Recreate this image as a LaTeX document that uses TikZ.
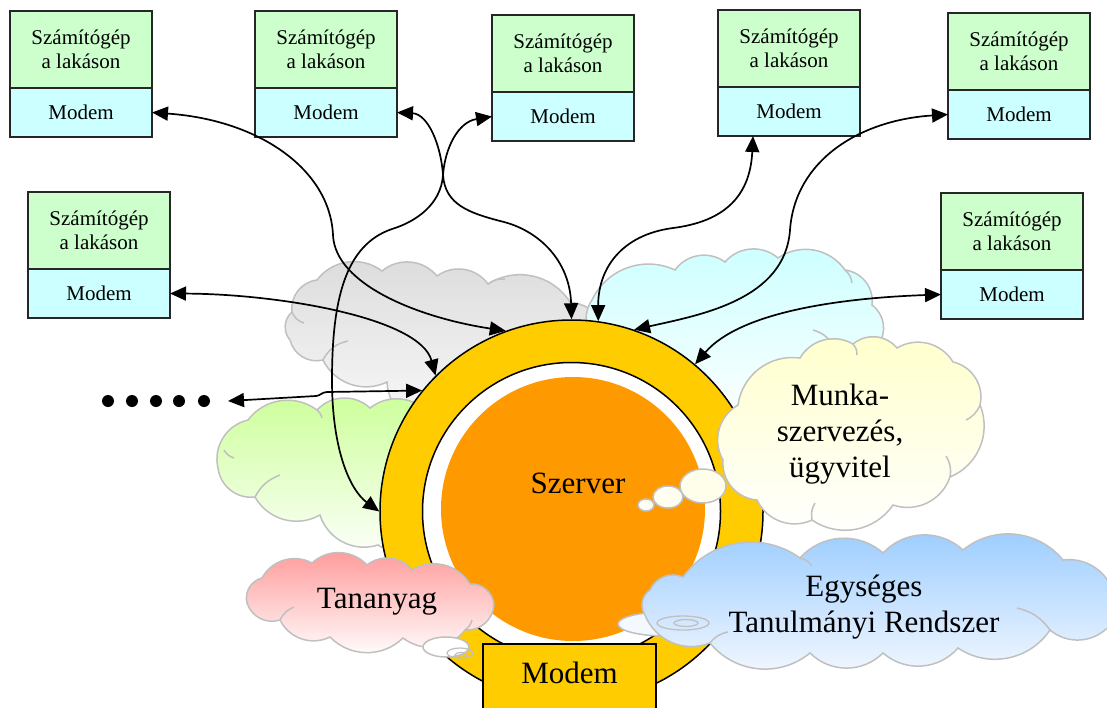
\documentclass[tikz,border=0pt]{standalone}
\usepackage{fontspec}
\setmainfont{Liberation Serif}
\usetikzlibrary{arrows.meta,calc}

\definecolor{boxgreen}{HTML}{CCFFCC}
\definecolor{boxcyan}{HTML}{CCFFFF}
\definecolor{ringyellow}{HTML}{FFCC00}
\definecolor{coreorange}{HTML}{FF9900}
\definecolor{cloudline}{HTML}{C0C0C0}
\definecolor{cgray}{HTML}{DCDCDC}
\definecolor{ccyan}{HTML}{CCFFFF}
\definecolor{cgreen}{HTML}{CCFF99}
\definecolor{cyellow}{HTML}{FFFFCC}
\definecolor{cblue}{HTML}{99CCFF}
\definecolor{cbluelow}{HTML}{F4F8FF}
\definecolor{cpink}{HTML}{FF9999}

% one home computer: the PC box with its modem underneath
\newcommand\homepc[3]{%
  \node[pcbox, anchor=north west] (c#1) at (#2,#3) {Számítógép\\a lakáson};
  \node[modembox, anchor=north] (m#1) at (c#1.south) {Modem};}

\begin{document}
\begin{tikzpicture}[x=1pt, y=-1pt,
  pcbox/.style={draw=black!85, line width=1.5pt, fill=boxgreen,
    minimum width=142pt, minimum height=77pt, inner sep=0pt, outer sep=0pt,
    align=center, font=\fontsize{21}{24}\selectfont},
  modembox/.style={draw=black!85, line width=1.5pt, fill=boxcyan,
    minimum width=142pt, minimum height=49pt, inner sep=0pt, outer sep=0pt,
    font=\fontsize{21}{24}\selectfont},
  conn/.style={{Triangle[length=16pt,width=14pt]}-{Triangle[length=16pt,width=14pt]},
    line width=1.7pt},
  cloudedge/.style={draw=cloudline, line width=1.5pt},
  lb/.style={bend left=45},
  stub/.style={draw=cloudline, line width=1.5pt},
  bubble/.style={draw=cloudline, line width=1.5pt},
  big/.style={font=\fontsize{31}{36}\selectfont},
  dot/.style={circle, fill=black, minimum size=12pt, inner sep=0pt}]

\useasboundingbox (0,0) rectangle (1107,707);

% ---- background clouds
\shadedraw[cloudedge, top color=cgray, bottom color=white]
  (317,280) to[lb] (382,271) to[lb] (437,276) to[lb] (488,284) to[lb] (570,302)
  to[lb] (615,360) to[lb] (600,425) to[lb] (520,445) to[lb] (440,430)
  to[lb] (387,382) to[lb] (323,360) to[lb] (290,340) to[lb] (292,312)
  to[lb] (317,280) -- cycle;
\draw[stub] (292,312) to[bend right=25] (304,323);
\draw[stub] (323,360) to[bend left=25] (348,341);
\draw[stub] (488,284) to[bend left=20] (505,279);
\shadedraw[cloudedge, top color=ccyan, bottom color=white]
  (592,300) to[lb] (675,270) to[lb] (725,262) to[lb] (778,258) to[lb] (845,270)
  to[lb] (872,305) to[lb] (878,345) to[lb] (860,390) to[lb] (780,410)
  to[lb] (700,400) to[lb] (640,380) to[lb] (600,345) to[lb] (592,300) -- cycle;
\draw[stub] (813,330) to[bend left=20] (833,345);
\draw[stub] (845,270) to[bend left=20] (852,283);
\shadedraw[cloudedge, top color=cgreen, bottom color=white]
  (248,420) to[lb] (317,410) to[lb] (370,408) to[lb] (430,415) to[lb] (480,450)
  to[lb] (475,520) to[lb] (378,545) to[lb] (320,515) to[lb] (255,497)
  to[lb] (218,468) to[lb] (248,420) -- cycle;
\draw[stub] (255,497) to[bend left=20] (280,475);
\draw[stub] (224,450) to[bend right=20] (234,458);
\draw[stub] (317,410) to[bend left=20] (322,418);

% ---- server rings
\node[circle, draw, line width=1.5pt, fill=ringyellow, minimum size=383pt,
  inner sep=0pt] (srv) at (571.5,511.5) {};
\node[circle, draw, line width=1.5pt, fill=white, minimum size=298pt,
  inner sep=0pt] (gap) at (571.5,511.5) {};
\node[circle, fill=coreorange, minimum size=264pt, inner sep=0pt]
  (core) at (573,509) {};
\node[big, anchor=base] (szerver) at (578,493) {Szerver};

% ---- home computers
\homepc{1}{10}{11}
\homepc{2}{255}{11}
\homepc{3}{492}{15}
\homepc{4}{718}{10}
\homepc{5}{948}{13}
\homepc{6}{941}{193}
\homepc{7}{28}{192}

% ---- further computers
\node[dot] (d1) at (108,401) {};
\node[dot] (d2) at (132,401) {};
\node[dot] (d3) at (156,401) {};
\node[dot] (d4) at (179,401) {};
\node[dot] (d5) at (204,401) {};
\coordinate (dt) at (228,401);

% ---- connections
\draw[conn] (m1.east) .. controls (260,120) and (330,170) .. (333,235)
  .. controls (335,285) and (420,318) .. (srv.110.7);
\draw[conn] (m2.east) .. controls (428,114) and (441,145) .. (443,175)
  .. controls (445,205) and (470,213) .. (500,221)
  .. controls (540,230) and (570,262) .. (srv.90);
\draw[conn] (m3.west) .. controls (458,122) and (445,148) .. (443,175)
  .. controls (441,205) and (415,222) .. (392,229)
  .. controls (345,245) and (332,300) .. (332,380)
  .. controls (332,450) and (350,490) .. (srv.180);
\draw[conn] ($(m4.south)+(-36,0)$) .. controls (750,200) and (720,222) .. (673,228)
  .. controls (620,235) and (598,270) .. (srv.82.5);
\draw[conn] (m5.west) .. controls (860,120) and (795,160) .. (790,230)
  .. controls (785,300) and (700,315) .. (srv.71.6);
\draw[conn] (m6.west) .. controls (840,298) and (740,312) .. (srv.50.3);
\draw[conn] (m7.east) .. controls (280,294) and (420,318) .. (srv.135.4);
\draw[conn] (dt) -- (316,396) .. controls (320,396) and (322,392) .. (327,392)
  -- (srv.141);

% ---- front clouds
% work organisation
\shadedraw[cloudedge, top color=cyellow, bottom color=white]
  (738,405) to[lb] (800,358) to[lb] (853,344) to[lb] (897,348) to[lb] (953,362)
  to[lb] (980,405) to[lb] (950,477) to[lb] (893,505) to[lb] (812,520)
  to[lb] (757,500) to[lb] (723,460) to[lb] (738,405) -- cycle;
\draw[stub] (980,405) to[bend left=20] (966,420);
\draw[stub] (950,477) to[bend right=20] (946,456);
\draw[stub] (812,520) to[bend left=20] (815,503);
\draw[stub] (853,344) to[bend left=20] (857,355);
\filldraw[bubble, fill=white!92!yellow] (703,486) ellipse [x radius=23, y radius=17];
\filldraw[bubble, fill=white!94!yellow] (668,497) ellipse [x radius=15, y radius=11];
\filldraw[bubble, fill=white!96!yellow] (646,505) ellipse [x radius=8, y radius=6];
\node[big, align=center, anchor=north, inner sep=0pt] (munka) at (840,384)
  {Munka-\\szervezés,\\ügyvitel};

% study system
\filldraw[bubble, fill=cbluelow] (665,624) ellipse [x radius=47, y radius=12];
\shadedraw[cloudedge, top color=cblue, bottom color=cbluelow]
  (683,577) to[lb] (800,558) to[lb] (883,553) to[lb] (963,550) to[lb] (1063,560)
  to[lb] (1115,600) to[lb] (1110,625) to[lb] (1050,630) to[lb] (958,648)
  to[lb] (883,653) to[lb] (810,653) to[lb] (710,643) to[lb] (645,615)
  to[lb] (650,590) to[lb] (683,577) -- cycle;
\draw[stub] (1050,630) to[bend right=20] (1017,608);
\draw[stub] (710,643) to[bend left=20] (728,632);
\draw[stub] (800,558) to[bend left=20] (812,566);
\draw[bubble, line width=1.3pt] (683,623) ellipse [x radius=26, y radius=7];
\draw[bubble, line width=1.3pt] (686,623) ellipse [x radius=12, y radius=3.5];
\node[big, align=center, anchor=north, inner sep=0pt] (etr) at (864,575)
  {Egységes\\Tanulmányi Rendszer};

% learning material
\shadedraw[cloudedge, top color=cpink, bottom color=white]
  (262,578) to[lb] (312,563) to[lb] (367,565) to[lb] (412,570) to[lb] (470,584)
  to[lb] (494,605) to[lb] (465,630) to[lb] (403,638) to[lb] (330,637)
  to[lb] (280,620) to[lb] (247,603) to[lb] (262,578) -- cycle;
\draw[stub] (280,620) to[bend left=20] (294,607);
\draw[stub] (465,630) to[bend right=20] (472,620);
\filldraw[bubble, fill=white] (446,647) ellipse [x radius=23, y radius=10];
\draw[bubble, line width=1.2pt] (460,653) ellipse [x radius=13, y radius=5];
\draw[bubble, line width=1.2pt] (461,655) ellipse [x radius=6, y radius=2.5];
\node[big, anchor=base] (tananyag) at (377,608) {Tananyag};

% server modem
\node[draw, line width=1.8pt, fill=ringyellow, minimum width=173pt,
  minimum height=80pt, inner sep=0pt, text height=20pt, text depth=20pt,
  big, anchor=north] (smodem) at (569.5,643) {Modem};
\end{tikzpicture}
\end{document}
